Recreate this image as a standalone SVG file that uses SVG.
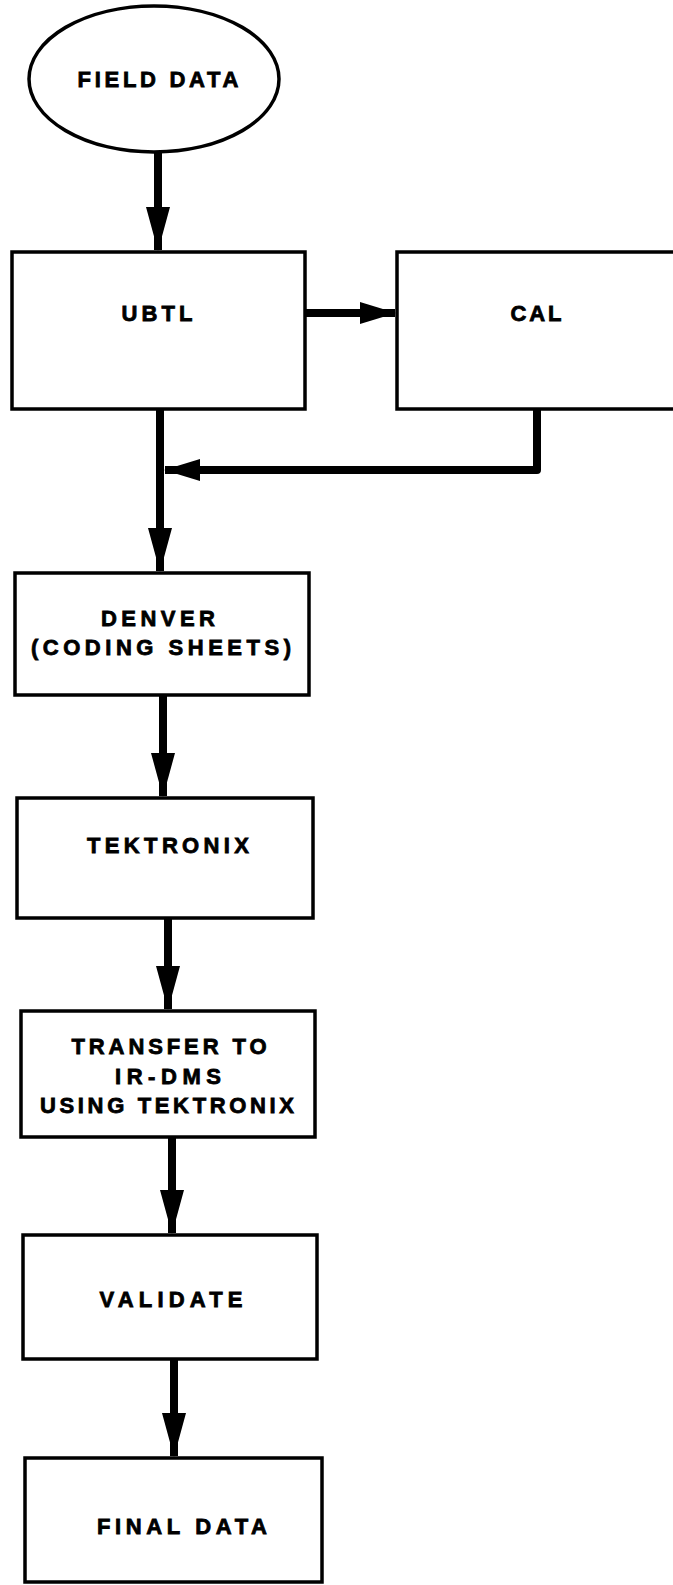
<svg xmlns="http://www.w3.org/2000/svg" width="673" height="1585" viewBox="0 0 673 1585">
<defs>
<style>
.node{fill:#fff;stroke:#000;stroke-width:3.5}
.lbl{font-family:"Liberation Sans",Arial,sans-serif;font-weight:bold;font-size:22px;fill:#000;stroke:#000;stroke-width:0.8;text-anchor:middle}
.wire{fill:none;stroke:#000;stroke-width:8;stroke-linejoin:round}
</style>
<marker id="ah" viewBox="0 0 44 24" refX="43" refY="12" markerWidth="44" markerHeight="24" markerUnits="userSpaceOnUse" orient="auto">
<path d="M0,0 L44,12 L0,24 Z" fill="#000"/>
</marker>
<marker id="ahs" viewBox="0 0 36 22" refX="35" refY="11" markerWidth="36" markerHeight="22" markerUnits="userSpaceOnUse" orient="auto">
<path d="M0,0 L36,11 L0,22 Z" fill="#000"/>
</marker>
</defs>
<rect width="673" height="1585" fill="#fff"/>
<g id="connectors">
<line class="wire" x1="158" y1="152" x2="158" y2="250" marker-end="url(#ah)"/>
<line class="wire" x1="306" y1="313" x2="395" y2="313" marker-end="url(#ahs)"/>
<polyline class="wire" points="537,409 537,470 165,470" marker-end="url(#ahs)"/>
<line class="wire" x1="160" y1="409" x2="160" y2="571" marker-end="url(#ah)"/>
<line class="wire" x1="163" y1="695" x2="163" y2="796" marker-end="url(#ah)"/>
<line class="wire" x1="168" y1="918" x2="168" y2="1009" marker-end="url(#ah)"/>
<line class="wire" x1="172" y1="1137" x2="172" y2="1233" marker-end="url(#ah)"/>
<line class="wire" x1="174" y1="1359" x2="174" y2="1456" marker-end="url(#ah)"/>
</g>
<g id="field-data">
<ellipse class="node" cx="154" cy="79" rx="125" ry="73"/>
<text class="lbl" x="158" y="87" textLength="161" lengthAdjust="spacing">FIELD DATA</text>
</g>
<g id="ubtl">
<rect class="node" x="12" y="252" width="293" height="157"/>
<text class="lbl" x="157" y="321" textLength="71" lengthAdjust="spacing">UBTL</text>
</g>
<g id="cal">
<rect class="node" x="397" y="252" width="280" height="157"/>
<text class="lbl" x="536" y="321" textLength="51" lengthAdjust="spacing">CAL</text>
</g>
<g id="denver">
<rect class="node" x="15" y="573" width="294" height="122"/>
<text class="lbl" x="158" y="626" textLength="114" lengthAdjust="spacing">DENVER</text>
<text class="lbl" x="161" y="655" textLength="260" lengthAdjust="spacing">(CODING SHEETS)</text>
</g>
<g id="tektronix">
<rect class="node" x="17" y="798" width="296" height="120"/>
<text class="lbl" x="168" y="853" textLength="162" lengthAdjust="spacing">TEKTRONIX</text>
</g>
<g id="transfer">
<rect class="node" x="21" y="1011" width="294" height="126"/>
<text class="lbl" x="169" y="1054" textLength="195" lengthAdjust="spacing">TRANSFER TO</text>
<text class="lbl" x="168" y="1084" textLength="106" lengthAdjust="spacing">IR-DMS</text>
<text class="lbl" x="167" y="1113" textLength="254" lengthAdjust="spacing">USING TEKTRONIX</text>
</g>
<g id="validate">
<rect class="node" x="23" y="1235" width="294" height="124"/>
<text class="lbl" x="171" y="1307" textLength="143" lengthAdjust="spacing">VALIDATE</text>
</g>
<g id="final-data">
<rect class="node" x="25" y="1458" width="297" height="124"/>
<text class="lbl" x="182" y="1534" textLength="170" lengthAdjust="spacing">FINAL DATA</text>
</g>
</svg>
